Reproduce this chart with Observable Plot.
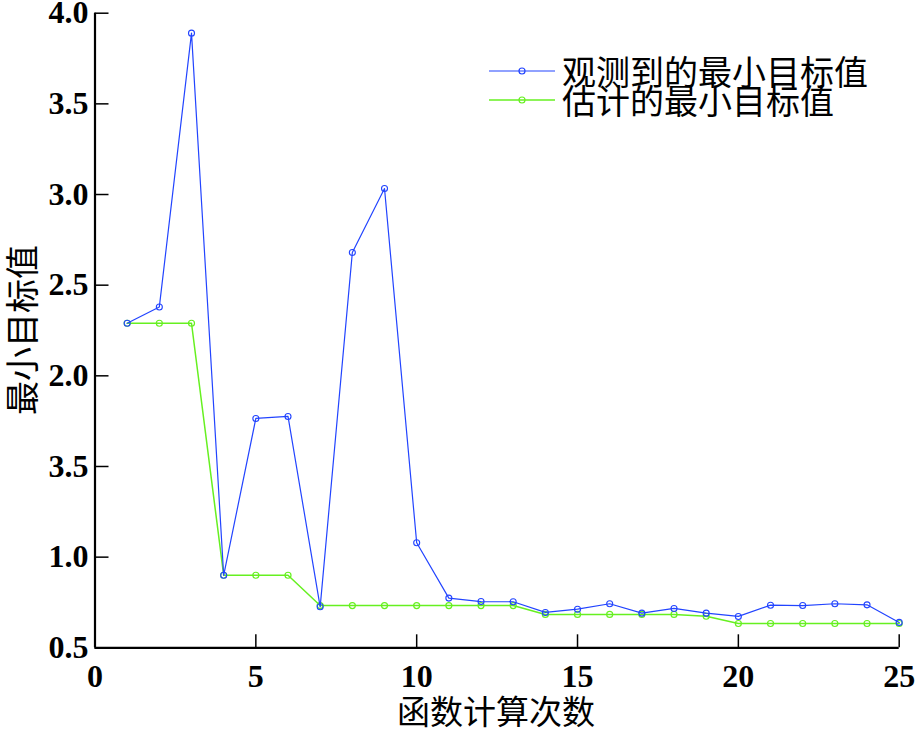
<!DOCTYPE html>
<html>
<head>
<meta charset="utf-8">
<script src="https://cdn.jsdelivr.net/npm/d3@7"></script>
<script src="https://cdn.jsdelivr.net/npm/@observablehq/plot@0.6"></script>
<style>
  html, body { margin: 0; padding: 0; background: #fff; }
  #wrap { position: relative; width: 917px; height: 733px; }
  #wrap svg text { font-family: "Liberation Serif", "DejaVu Serif", serif !important; font-weight: bold; font-size: 32px; }
  .cjk { position: absolute; font-family: "Noto Sans CJK SC", sans-serif; color: #000; white-space: nowrap; }
</style>
</head>
<body>
<div id="wrap"></div>
<script>
const evals = [1,2,3,4,5,6,7,8,9,10,11,12,13,14,15,16,17,18,19,20,21,22,23,24,25];
const observed = [2.29,2.38,3.89,0.90,1.765,1.776,0.726,2.68,3.033,1.079,0.774,0.755,0.754,0.695,0.713,0.743,0.691,0.717,0.691,0.673,0.735,0.733,0.743,0.737,0.640];
const estimated = [2.29,2.29,2.29,0.90,0.90,0.90,0.733,0.733,0.733,0.733,0.733,0.733,0.733,0.684,0.684,0.684,0.684,0.684,0.674,0.634,0.634,0.634,0.634,0.634,0.634];
const seriesNames = ["观测到的最小目标值", "估计的最小目标值"];
const seriesColors = ["#2244ff", "#66f020"];
const xTicks = [0,5,10,15,20,25];
const yTicks = [0.5,1.0,1.5,2.0,2.5,3.0,3.5,4.0];
const yTickLabels = ["0.5","1.0","3.5","2.0","2.5","3.0","3.5","4.0"];
const xLabel = "函数计算次数";
const yLabel = "最小目标值";

const obsData = evals.map((x, i) => ({x, y: observed[i]}));
const estData = evals.map((x, i) => ({x, y: estimated[i]}));

const serif = "'Liberation Serif', serif";
const chart = Plot.plot({
  width: 917,
  height: 733,
  marginLeft: 94.5,
  marginRight: 18.3,
  marginTop: 12.7,
  marginBottom: 85.7,
  style: {fontFamily: serif, fontSize: "32px", fontWeight: "bold", color: "#000", background: "#fff"},
  x: {domain: [0, 25]},
  y: {domain: [0.5, 4.0]},
  marks: [
    Plot.axisX({ticks: xTicks, tickSize: -13, tickPadding: 29, strokeWidth: 1.5, label: null, fontFamily: serif, fontWeight: "bold", tickFormat: d => String(d)}),
    Plot.axisY({ticks: yTicks, tickSize: -14, tickPadding: 20.5, strokeWidth: 1.5, label: null, fontFamily: serif, fontWeight: "bold", tickFormat: d => yTickLabels[yTicks.indexOf(d)]}),
    Plot.ruleX([0], {strokeWidth: 2.2, stroke: "#000"}),
    Plot.ruleY([0.5], {strokeWidth: 2.2, stroke: "#000"}),
    Plot.line(estData, {x: "x", y: "y", stroke: seriesColors[1], strokeWidth: 1.5}),
    Plot.dot(estData, {x: "x", y: "y", stroke: seriesColors[1], r: 3, strokeWidth: 1.2, fill: "none"}),
    Plot.line(obsData, {x: "x", y: "y", stroke: seriesColors[0], strokeWidth: 1.2}),
    Plot.dot(obsData, {x: "x", y: "y", stroke: seriesColors[0], r: 3, strokeWidth: 1.1, fill: "none"})
  ]
});

const wrap = document.getElementById("wrap");
wrap.appendChild(chart);

// axis titles
const xl = document.createElement("div");
xl.className = "cjk";
xl.textContent = xLabel;
xl.style.fontSize = "33px";
xl.style.lineHeight = "33px";
xl.style.left = "496px";
xl.style.top = "694px";
xl.style.transform = "translateX(-50%)";
wrap.appendChild(xl);

const yl = document.createElement("div");
yl.className = "cjk";
yl.textContent = yLabel;
yl.style.fontSize = "34px";
yl.style.lineHeight = "34px";
yl.style.left = "21px";
yl.style.top = "330px";
yl.style.transform = "translate(-50%, -50%) rotate(-90deg)";
wrap.appendChild(yl);

// legend
const legendY = [70.5, 100];
seriesNames.forEach((name, i) => {
  const row = document.createElement("div");
  row.style.position = "absolute";
  row.style.left = "488px";
  row.style.top = (legendY[i] - 17) + "px";
  row.style.height = "34px";
  row.style.display = "flex";
  row.style.alignItems = "center";
  const ns = "http://www.w3.org/2000/svg";
  const s = document.createElementNS(ns, "svg");
  s.setAttribute("width", "68");
  s.setAttribute("height", "34");
  const ln = document.createElementNS(ns, "line");
  ln.setAttribute("x1", "1"); ln.setAttribute("x2", "67");
  ln.setAttribute("y1", "17"); ln.setAttribute("y2", "17");
  ln.setAttribute("stroke", seriesColors[i]);
  ln.setAttribute("stroke-width", i === 0 ? "1.2" : "1.5");
  s.appendChild(ln);
  const c = document.createElementNS(ns, "circle");
  c.setAttribute("cx", "34"); c.setAttribute("cy", "17"); c.setAttribute("r", "3");
  c.setAttribute("fill", "none"); c.setAttribute("stroke", seriesColors[i]);
  c.setAttribute("stroke-width", "1.2");
  s.appendChild(c);
  row.appendChild(s);
  const t = document.createElement("span");
  t.textContent = name;
  t.style.fontFamily = "'Noto Sans CJK SC', sans-serif";
  t.style.fontSize = "34px";
  t.style.lineHeight = "34px";
  t.style.marginLeft = "6px";
  row.appendChild(t);
  wrap.appendChild(row);
});
</script>
</body>
</html>
